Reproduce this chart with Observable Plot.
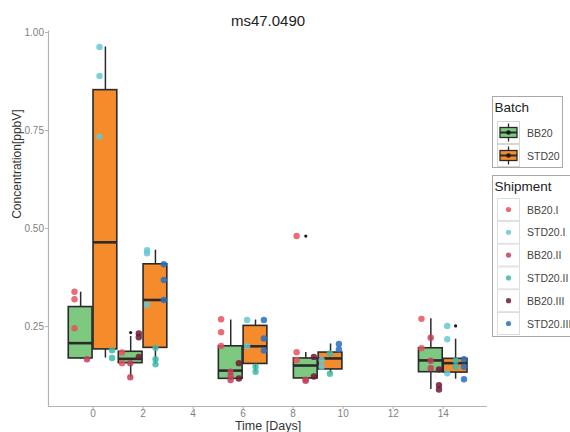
<!DOCTYPE html>
<html>
<head>
<meta charset="utf-8">
<script src="https://cdn.jsdelivr.net/npm/d3@7"></script>
<script src="https://cdn.jsdelivr.net/npm/@observablehq/plot@0.6"></script>
<style>
  html, body { margin: 0; padding: 0; background: #fff; width: 570px; height: 432px; overflow: hidden; }
  #chart { position: absolute; left: 0; top: 0; }
  #legend { position: absolute; left: 488px; top: 0; }
</style>
</head>
<body>
<div id="chart"></div>
<div id="legend"></div>
<script>
// ---------- data ----------
const title = "ms47.0490";
const xLabel = "Time [Days]";
const yLabel = "Concentration[ppbV]";
const days = [0, 2, 6, 9, 14];
const xTicks = [0, 2, 4, 6, 8, 10, 12, 14];
const yTicks = [0.25, 0.50, 0.75, 1.00];
const batches = ["BB20", "STD20"];
const shipments = ["BB20.I", "STD20.I", "BB20.II", "STD20.II", "BB20.III", "STD20.III"];

// box statistics per day (BB20)
const bbLo  = [0.167, 0.121, 0.113, 0.112, 0.090];
const bbQ1  = [0.169, 0.157, 0.117, 0.118, 0.134];
const bbMed = [0.208, 0.168, 0.138, 0.151, 0.164];
const bbQ3  = [0.300, 0.186, 0.200, 0.169, 0.195];
const bbHi  = [0.338, 0.225, 0.267, 0.184, 0.270];
// box statistics per day (STD20)
const stdLo  = [0.170, 0.154, 0.135, 0.130, 0.116];
const stdQ1  = [0.192, 0.196, 0.155, 0.141, 0.133];
const stdMed = [0.465, 0.318, 0.200, 0.169, 0.157];
const stdQ3  = [0.853, 0.409, 0.252, 0.184, 0.168];
const stdHi  = [0.963, 0.445, 0.267, 0.206, 0.218];

// outliers
const outBatch = ["BB20", "BB20", "STD20"];
const outDay   = [2, 9, 14];
const outConc  = [0.235, 0.481, 0.252];

// jittered observations
const ptShip = [
  "BB20.I","BB20.I","BB20.I","BB20.II","STD20.I","STD20.I","STD20.I","STD20.II","STD20.II",
  "BB20.I","BB20.I","BB20.II","BB20.II","BB20.III","BB20.III","BB20.III",
  "STD20.I","STD20.I","STD20.I","STD20.II","STD20.II","STD20.II","STD20.III","STD20.III","STD20.III",
  "BB20.I","BB20.I","BB20.I","BB20.II","BB20.II","BB20.II","BB20.III","BB20.III",
  "STD20.I","STD20.I","STD20.II","STD20.II","STD20.III","STD20.III","STD20.III",
  "BB20.I","BB20.I","BB20.I","BB20.II","BB20.II","BB20.III","BB20.III",
  "STD20.I","STD20.I","STD20.II","STD20.II","STD20.III","STD20.III",
  "BB20.I","BB20.I","BB20.II","BB20.II","BB20.II","BB20.III","BB20.III","BB20.III",
  "STD20.I","STD20.I","STD20.I","STD20.II","STD20.II","STD20.III","STD20.III","STD20.III"
];
const ptTime = [
  -0.74,-0.74,-0.74,-0.24,0.26,0.26,0.26,0.76,0.76,
  1.16,1.16,1.49,1.49,1.83,1.83,1.83,
  2.16,2.16,2.16,2.5,2.5,2.5,2.83,2.83,2.83,
  5.12,5.12,5.12,5.5,5.5,5.5,5.83,5.83,
  6.16,6.16,6.5,6.5,6.83,6.83,6.83,
  8.14,8.14,8.14,8.5,8.5,8.83,8.83,
  9.14,9.14,9.47,9.47,9.83,9.83,
  13.13,13.13,13.5,13.5,13.5,13.83,13.83,13.83,
  14.16,14.16,14.16,14.5,14.5,14.83,14.83,14.83
];
const ptConc = [
  0.339,0.320,0.246,0.167,0.963,0.889,0.734,0.190,0.170,
  0.184,0.157,0.157,0.121,0.233,0.223,0.173,
  0.445,0.437,0.306,0.196,0.167,0.154,0.409,0.369,0.318,
  0.269,0.236,0.201,0.135,0.124,0.114,0.157,0.118,
  0.267,0.200,0.148,0.135,0.267,0.220,0.189,
  0.481,0.185,0.165,0.115,0.112,0.173,0.123,
  0.165,0.148,0.182,0.130,0.206,0.192,
  0.270,0.195,0.222,0.163,0.144,0.141,0.101,0.090,
  0.252,0.218,0.131,0.163,0.148,0.167,0.148,0.116
];

// ---------- styles ----------
const batchColors = ["#7dc980", "#f68b2b"];
const shipColors = ["#e8515e", "#66c7d4", "#c43e5c", "#3fbaa8", "#6e1733", "#2a6fbe"];
const font = "'Liberation Sans', Arial, Helvetica, sans-serif";

// ---------- derived tables ----------
const stats = {
  BB20: {lo: bbLo, q1: bbQ1, med: bbMed, q3: bbQ3, hi: bbHi, a: -0.97, b: -0.02},
  STD20: {lo: stdLo, q1: stdQ1, med: stdMed, q3: stdQ3, hi: stdHi, a: 0.02, b: 0.97}
};
const boxes = [];
batches.forEach(batch => {
  const s = stats[batch];
  days.forEach((day, j) => {
    boxes.push({
      batch, day,
      x1: day + s.a, x2: day + s.b, xc: day + (s.a + s.b) / 2,
      lo: s.lo[j], q1: s.q1[j], med: s.med[j], q3: s.q3[j], hi: s.hi[j]
    });
  });
});
const outliers = outBatch.map((batch, i) => {
  const s = stats[batch];
  return {batch, x: outDay[i] + (s.a + s.b) / 2, y: outConc[i]};
});
const points = ptShip.map((shipment, i) => ({shipment, x: ptTime[i], y: ptConc[i]}));

const xDomain = [-1.78, 15.77];
const yDomain = [0.0465, 1.0035];

const chart = Plot.plot({
  width: 490,
  height: 432,
  marginLeft: 48,
  marginRight: 3,
  marginTop: 30.6,
  marginBottom: 26,
  style: {fontFamily: font, background: "#fff", color: "#7f7f7f"},
  x: {domain: xDomain},
  y: {domain: yDomain},
  color: {domain: batches.concat(shipments), range: batchColors.concat(shipColors)},
  marks: [
    Plot.ruleX([xDomain[0]], {stroke: "#b3b3b3", strokeWidth: 1.2}),
    Plot.ruleY([yDomain[0]], {stroke: "#b3b3b3", strokeWidth: 1.2}),
    Plot.axisX({ticks: xTicks, tickSize: 3, tickPadding: 0.5, fontSize: 10, label: null, stroke: "#b3b3b3", fill: "#7f7f7f"}),
    Plot.axisY({ticks: yTicks, tickFormat: d3.format(".2f"), tickSize: 3, tickPadding: 1.5, fontSize: 10, label: null, stroke: "#b3b3b3", fill: "#7f7f7f"}),
    Plot.ruleX(boxes, {x: "xc", y1: "lo", y2: "q1", stroke: "#2a2a2a", strokeWidth: 1.5}),
    Plot.ruleX(boxes, {x: "xc", y1: "q3", y2: "hi", stroke: "#2a2a2a", strokeWidth: 1.5}),
    Plot.rect(boxes, {x1: "x1", x2: "x2", y1: "q1", y2: "q3", fill: "batch", stroke: "#2a2a2a", strokeWidth: 1.6}),
    Plot.ruleY(boxes, {x1: "x1", x2: "x2", y: "med", stroke: "#2a2a2a", strokeWidth: 2.6}),
    Plot.dot(outliers, {x: "x", y: "y", r: 1.6, fill: "#1a1a1a", stroke: null}),
    Plot.dot(points, {x: "x", y: "y", r: 3.2, fill: "shipment", fillOpacity: 0.85, stroke: null}),
    Plot.text([title], {frameAnchor: "top", dy: -16, text: d => d, fontSize: 15, fill: "#222"}),
    Plot.text([xLabel], {frameAnchor: "bottom", dy: 23.5, text: d => d, fontSize: 12.5, fill: "#333"}),
    Plot.text([yLabel], {frameAnchor: "left", dx: -31, rotate: -90, text: d => d, fontSize: 12, fill: "#333"})
  ]
});
document.getElementById("chart").appendChild(chart);

// ---------- legend ----------
const colorOf = (k) => {
  const bi = batches.indexOf(k);
  return bi >= 0 ? batchColors[bi] : shipColors[shipments.indexOf(k)];
};
const lg = d3.select("#legend").append("svg")
  .attr("width", 120).attr("height", 432)
  .style("font-family", font);

// Batch legend
lg.append("rect").attr("x", 4.5).attr("y", 96.5).attr("width", 70).attr("height", 71)
  .attr("fill", "#fff").attr("stroke", "#a8a8a8");
lg.append("text").attr("x", 6.5).attr("y", 111.5).attr("font-size", 13.5).attr("fill", "#222").text("Batch");
batches.forEach((b, i) => {
  const ky = 121.5 + i * 23, kx = 9.5;
  const g = lg.append("g");
  g.append("rect").attr("x", kx).attr("y", ky).attr("width", 22).attr("height", 22)
    .attr("fill", "#fff").attr("stroke", "#d6d6d6");
  g.append("line").attr("x1", kx + 11).attr("x2", kx + 11).attr("y1", ky + 2).attr("y2", ky + 20)
    .attr("stroke", "#2a2a2a").attr("stroke-width", 1.3);
  g.append("rect").attr("x", kx + 2.5).attr("y", ky + 6).attr("width", 17).attr("height", 10)
    .attr("fill", colorOf(b)).attr("stroke", "#2a2a2a").attr("stroke-width", 1.3);
  g.append("line").attr("x1", kx + 2.5).attr("x2", kx + 19.5).attr("y1", ky + 11).attr("y2", ky + 11)
    .attr("stroke", "#2a2a2a").attr("stroke-width", 2);
  g.append("circle").attr("cx", kx + 11).attr("cy", ky + 11).attr("r", 2.3).attr("fill", "#1a1a1a");
  lg.append("text").attr("x", 39).attr("y", ky + 11).attr("dominant-baseline", "central")
    .attr("font-size", 10.5).attr("fill", "#444").text(b);
});

// Shipment legend
lg.append("rect").attr("x", 4.5).attr("y", 175.5).attr("width", 110).attr("height", 161)
  .attr("fill", "#fff").attr("stroke", "#a8a8a8");
lg.append("text").attr("x", 6.5).attr("y", 190.5).attr("font-size", 13.5).attr("fill", "#222").text("Shipment");
shipments.forEach((s, i) => {
  const ky = 198.5 + i * 22.8, kx = 9.5;
  lg.append("rect").attr("x", kx).attr("y", ky).attr("width", 22).attr("height", 22)
    .attr("fill", "#fff").attr("stroke", "#dedede");
  lg.append("circle").attr("cx", kx + 11).attr("cy", ky + 11).attr("r", 2.6)
    .attr("fill", colorOf(s)).attr("fill-opacity", 0.85);
  lg.append("text").attr("x", 39).attr("y", ky + 11).attr("dominant-baseline", "central")
    .attr("font-size", 10.5).attr("fill", "#444").text(s);
});
</script>
</body>
</html>
